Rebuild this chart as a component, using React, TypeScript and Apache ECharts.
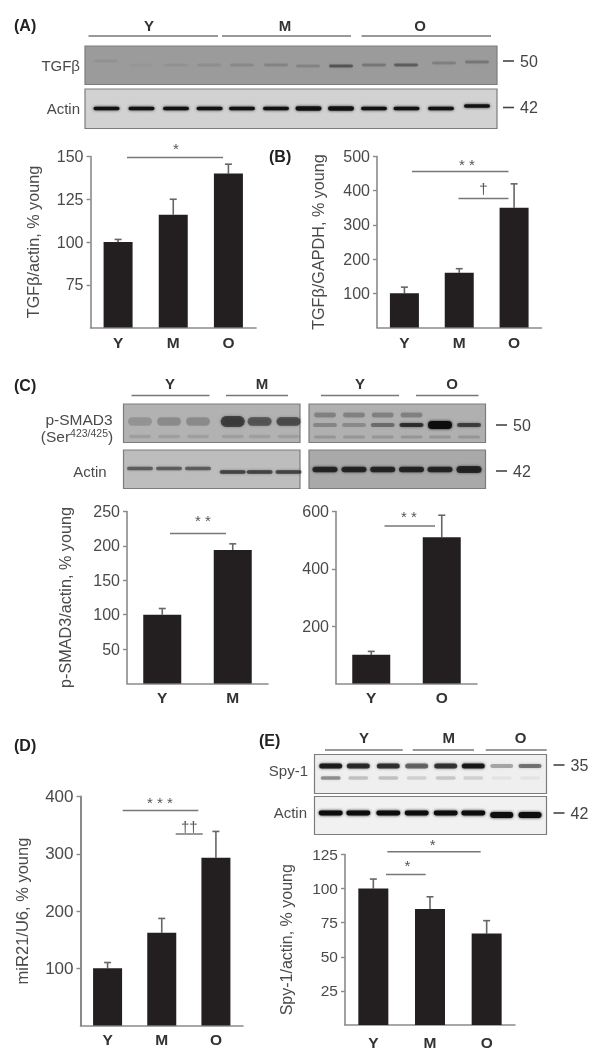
import React, { useEffect, useRef } from "react";
import * as echarts from "echarts";

const FONT = "'Liberation Sans', Arial, sans-serif";
const BAR = "#231f20";
const AXIS = "#8a8a8a";
const TICK_TEXT = "#4a4a4a";

// ---- chart data ----
const catsYMO = ["Y", "M", "O"];
const catsYM = ["Y", "M"];
const catsYO = ["Y", "O"];

const valuesA = [100, 116, 140];
const errorTopA = [101.5, 125, 145.5];
const valuesB = [100, 160, 350];
const errorTopB = [118, 172, 420];
const valuesC1 = [100, 194];
const errorTopC1 = [109, 203];
const valuesC2 = [100, 510];
const errorTopC2 = [112, 587];
const valuesD = [100, 162, 293];
const errorTopD = [110, 187, 339];
const valuesE = [100, 85, 67];
const errorTopE = [107, 94, 76.5];

const charts = [
  { cats: catsYMO, vals: valuesA, errs: errorTopA, min: 50, max: 150, step: 25, name: "TGFβ/actin, % young", left: 90.5, top: 156.5, w: 165.5, h: 171, barW: 29, gap: 50, size: 16, nameSize: 16.2, mx: 7 },
  { cats: catsYMO, vals: valuesB, errs: errorTopB, min: 0, max: 500, step: 100, name: "TGFβ/GAPDH, % young", left: 377, top: 156.5, w: 164.5, h: 171, barW: 29, gap: 51, size: 16, nameSize: 16.2, mx: 7 },
  { cats: catsYM, vals: valuesC1, errs: errorTopC1, min: 0, max: 250, step: 50, name: "p-SMAD3/actin, % young", left: 127, top: 511.5, w: 141, h: 172, barW: 38, gap: 54, size: 16, nameSize: 16.2, mx: 6 },
  { cats: catsYO, vals: valuesC2, errs: errorTopC2, min: 0, max: 600, step: 200, name: "", left: 336, top: 511.5, w: 141, h: 172, barW: 38, gap: 54, size: 16, nameSize: 16.2, mx: 6 },
  { cats: catsYMO, vals: valuesD, errs: errorTopD, min: 0, max: 400, step: 100, name: "miR21/U6, % young", left: 80.5, top: 796.5, w: 162.5, h: 229, barW: 29, gap: 50, size: 17, nameSize: 16.5, mx: 6 },
  { cats: catsYMO, vals: valuesE, errs: errorTopE, min: 0, max: 125, step: 25, name: "Spy-1/actin, % young", left: 345, top: 854.5, w: 170, h: 171, barW: 30, gap: 51, size: 15.5, nameSize: 16, mx: 9 },
];

// ---- annotation helpers (blots, brackets, labels) ----
const txt = (x: number, y: number, text: string, o: any = {}) => ({
  type: "text",
  x,
  y,
  silent: true,
  style: {
    text,
    fontFamily: FONT,
    fontSize: o.size ?? 15,
    fontWeight: o.weight ?? "normal",
    fill: o.color ?? TICK_TEXT,
    align: o.align ?? "center",
    verticalAlign: "middle",
    rich: o.rich,
  },
});
const seg = (x1: number, y1: number, x2: number, y2: number, color = "#777", w = 1.5) => ({
  type: "line",
  silent: true,
  shape: { x1, y1, x2, y2 },
  style: { stroke: color, lineWidth: w },
});
const panel = (x: number, y: number, w: number, h: number, fill: string) => ({
  type: "rect",
  silent: true,
  shape: { x, y, width: w, height: h },
  style: { fill, stroke: "#7c7c7c", lineWidth: 1.2 },
});
// a soft blot band: a rounded bar whose edges are blurred in every direction
const band = (cx: number, cy: number, rx: number, ry: number, a: number) => ({
  type: "rect",
  silent: true,
  shape: { x: cx - rx, y: cy - ry * 0.6, width: rx * 2, height: ry * 1.2, r: ry * 0.6 },
  style: {
    fill: `rgba(15,15,15,${a})`,
    shadowBlur: 3,
    shadowColor: `rgba(15,15,15,${a * 0.85})`,
  },
});
const mw = (x: number, y: number, label: string, size = 16) => [
  seg(x, y, x + 11, y, "#444", 1.6),
  txt(x + 17, y, label, { align: "left", size, color: "#444" }),
];
const header = (list: [number, string][], y: number, size = 15) =>
  list.map(([x, s]) => txt(x, y, s, { size, weight: "bold", color: "#333" }));
const rule = (list: [number, number][], y: number) => list.map(([a, b]) => seg(a, y, b, y, "#777", 1.6));
const panelTag = (x: number, y: number, s: string) =>
  txt(x, y, s, { align: "left", size: 16, weight: "bold", color: "#222" });
const sig = (x: number, y: number, s: string, size = 15) => txt(x, y, s, { size, color: "#555" });

const lanesA = [106.5, 141.5, 176, 209.6, 242, 276, 308.5, 341, 374, 406.5, 441, 477];
const tgfbA: [number, number, number][] = [
  [106, 61, 0.06], [141, 65, 0.03], [176, 65, 0.06], [209, 65, 0.08],
  [242, 65, 0.11], [276, 65, 0.14], [308, 66, 0.14], [341, 66, 0.4],
  [374, 65, 0.22], [406, 65, 0.36], [444, 63, 0.16], [477, 62, 0.22],
];
const lanesC1 = [140, 169, 198, 232.7, 259.6, 288.5];
const lanesC2 = [325, 354, 382.7, 411.5, 440, 469];
const lanesE = [330.7, 358.3, 388.3, 416.7, 445.7, 473.3, 501.7, 530];

const blotGraphics: any[] = [
  panelTag(14, 25, "(A)"),
  ...header([[149, "Y"], [285, "M"], [420, "O"]], 25),
  ...rule([[88.5, 218], [222, 351], [361.5, 491]], 36),
  txt(80, 65, "TGFβ", { align: "right", size: 15 }),
  txt(80, 108.5, "Actin", { align: "right", size: 15 }),
  panel(85, 46, 412, 38.5, "#9b9b9b"),
  panel(85, 89, 412, 39.5, "#d2d2d2"),
  ...tgfbA.map(([x, y, a]) => band(x, y, 12, 2.4, a)),
  ...lanesA.map((x, i) => band(x, i === 11 ? 106 : 108.5, 13, i === 6 || i === 7 ? 3.6 : 2.9, 0.95)),
  ...mw(503, 61, "50"),
  ...mw(503, 107.5, "42"),

  panelTag(269, 156.5, "(B)"),

  panelTag(14, 385, "(C)"),
  ...header([[170, "Y"], [262, "M"], [360, "Y"], [452, "O"]], 383),
  ...rule([[131.5, 209.5], [226, 288], [321, 399], [416, 478.5]], 395.5),
  txt(79, 419, "p-SMAD3", { size: 15.5 }),
  txt(77, 436, "{a|(Ser}{s|423/425}{a|)}", {
    rich: {
      a: { fontFamily: FONT, fontSize: 15.5, fill: TICK_TEXT },
      s: { fontFamily: FONT, fontSize: 10.5, fill: TICK_TEXT, padding: [0, 0, 6, 0] },
    },
  }),
  txt(90, 471, "Actin", { size: 15 }),
  panel(123.5, 404, 176.5, 38.5, "#b2b2b2"),
  panel(309, 404, 176.5, 38.5, "#b0b0b0"),
  panel(123.5, 450, 176.5, 38.5, "#bdbdbd"),
  panel(309, 450, 176.5, 38.5, "#a9a9a9"),
  ...lanesC1.map((x, i) => band(x, 421.5, 12, i < 3 ? 7 : i === 3 ? 9 : 7, [0.16, 0.2, 0.2, 0.62, 0.5, 0.55][i])),
  ...lanesC1.map((x) => band(x, 436.5, 11, 3, 0.1)),
  ...lanesC2.map((x, i) => band(x, 425, 12, i === 4 ? 6.5 : 3.5, [0.22, 0.2, 0.34, 0.72, 0.98, 0.64][i])),
  ...lanesC2.slice(0, 4).map((x) => band(x, 415, 11, 4, 0.24)),
  ...lanesC2.map((x) => band(x, 437, 11, 2.5, 0.14)),
  ...lanesC1.map((x, i) => band(x, i < 3 ? 468.5 : 472, 13, 3, i < 3 ? 0.5 : 0.62)),
  ...lanesC2.map((x, i) => band(x, 469.5, 12.5, i === 5 ? 6 : 4.5, 0.78)),
  ...mw(496, 425, "50"),
  ...mw(496, 471, "42"),

  panelTag(14, 745.5, "(D)"),
  panelTag(259, 740, "(E)"),
  ...header([[364, "Y"], [448.7, "M"], [520.7, "O"]], 737),
  ...rule([[325, 402.7], [412.7, 474], [485.7, 546.7]], 750),
  txt(308, 770, "Spy-1", { align: "right", size: 15 }),
  txt(307, 812.7, "Actin", { align: "right", size: 15 }),
  panel(314.5, 754.5, 232, 39, "#efefef"),
  panel(314.5, 796.5, 232, 38, "#f1f1f1"),
  ...lanesE.map((x, i) => band(x, 766, 11.5, i > 5 ? 3.5 : 4.2, [0.88, 0.8, 0.76, 0.55, 0.75, 0.9, 0.28, 0.5][i])),
  ...lanesE.map((x, i) => band(x, 778, 10, 2.8, [0.36, 0.18, 0.18, 0.12, 0.16, 0.12, 0.05, 0.05][i])),
  ...lanesE.map((x, i) => band(x, i > 5 ? 815 : 813, i > 5 ? 11.5 : 12, i > 5 ? 5 : 4, 1)),
  ...mw(553.5, 765, "35"),
  ...mw(553.5, 813, "42"),

  // significance brackets
  seg(127, 157.5, 223, 157.5),
  sig(176, 148, "*"),
  seg(412, 171.5, 508.5, 171.5),
  sig(467, 164, "* *"),
  seg(458.5, 198.5, 508.5, 198.5),
  sig(483.5, 188, "†"),
  seg(170, 533.5, 226, 533.5),
  sig(203, 520, "* *"),
  seg(384.5, 526, 435, 526),
  sig(409, 516, "* *"),
  seg(122.7, 810.5, 198.3, 810.5),
  sig(160, 802, "* * *"),
  seg(175.7, 834, 202.7, 834),
  sig(189.3, 826, "††"),
  seg(387.3, 851.7, 480.7, 851.7),
  sig(432.7, 844, "*"),
  seg(386, 874.5, 425.7, 874.5),
  sig(407.3, 865, "*"),
];

function buildOption() {
  const grid: any[] = [];
  const xAxis: any[] = [];
  const yAxis: any[] = [];
  const series: any[] = [];
  charts.forEach((c, i) => {
    grid.push({ left: c.left, top: c.top, width: c.w, height: c.h, containLabel: false });
    xAxis.push({
      type: "category",
      gridIndex: i,
      data: c.cats,
      axisLine: { show: true, onZero: false, lineStyle: { color: AXIS, width: 1.6 } },
      axisTick: { show: false },
      axisLabel: { margin: c.mx, fontFamily: FONT, fontSize: 15.5, fontWeight: "bold", color: "#333" },
    });
    yAxis.push({
      type: "value",
      gridIndex: i,
      min: c.min,
      max: c.max,
      interval: c.step,
      name: c.name,
      nameLocation: "middle",
      nameRotate: 90,
      nameGap: c.gap,
      nameTextStyle: { fontFamily: FONT, fontSize: c.nameSize, color: TICK_TEXT },
      splitLine: { show: false },
      axisLine: { show: true, lineStyle: { color: AXIS, width: i === 4 ? 2 : 1.6 } },
      axisTick: { show: true, length: 4, lineStyle: { color: AXIS, width: 1.4 } },
      axisLabel: { margin: 7, showMinLabel: false, fontFamily: FONT, fontSize: c.size, color: TICK_TEXT },
    });
    series.push({
      type: "bar",
      xAxisIndex: i,
      yAxisIndex: i,
      data: c.vals,
      barWidth: c.barW,
      itemStyle: { color: BAR },
      silent: true,
    });
    series.push({
      type: "custom",
      xAxisIndex: i,
      yAxisIndex: i,
      silent: true,
      clip: false,
      z: 1,
      data: c.errs.map((e, k) => [k, c.vals[k], e]),
      encode: { x: 0, y: 2 },
      renderItem: (_p: any, api: any) => {
        const base = api.coord([api.value(0), api.value(1)]);
        const top = api.coord([api.value(0), api.value(2)]);
        const style = { stroke: "#666", lineWidth: 1.6, fill: "none" };
        return {
          type: "group",
          children: [
            { type: "line", shape: { x1: base[0], y1: base[1], x2: top[0], y2: top[1] }, style },
            { type: "line", shape: { x1: top[0] - 3.5, y1: top[1], x2: top[0] + 3.5, y2: top[1] }, style },
          ],
        };
      },
    });
  });
  return {
    animation: false,
    backgroundColor: "#ffffff",
    grid,
    xAxis,
    yAxis,
    series,
    graphic: { elements: blotGraphics },
  };
}

export default function App() {
  const ref = useRef<HTMLDivElement>(null);
  useEffect(() => {
    const chart = echarts.init(ref.current!, null, { renderer: "svg" });
    chart.setOption(buildOption());
    return () => chart.dispose();
  }, []);
  return (
    <div
      ref={ref}
      style={{ position: "absolute", left: 0, top: 0, width: 600, height: 1050, filter: "blur(0.4px)" }}
    />
  );
}
